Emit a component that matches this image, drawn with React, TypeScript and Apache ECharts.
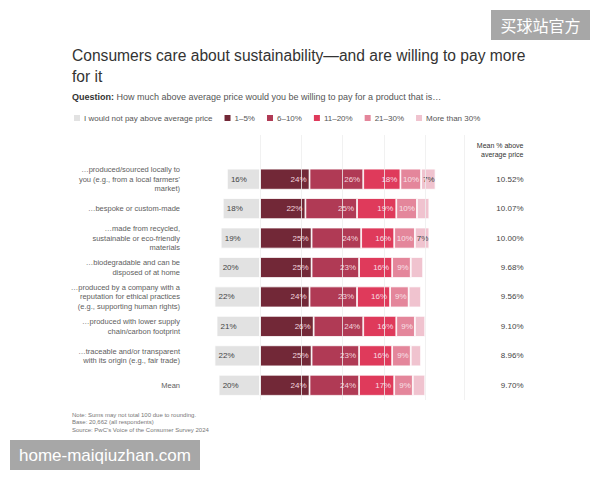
import React, { useEffect, useRef } from "react";
import * as echarts from "echarts";

// Row labels (statements completing "a product that is…")
const statements = [
  "…produced/sourced locally to\nyou (e.g., from a local farmers'\nmarket)",
  "…bespoke or custom-made",
  "…made from recycled,\nsustainable or eco-friendly\nmaterials",
  "…biodegradable and can be\ndisposed of at home",
  "…produced by a company with a\nreputation for ethical practices\n(e.g., supporting human rights)",
  "…produced with lower supply\nchain/carbon footprint",
  "…traceable and/or transparent\nwith its origin (e.g., fair trade)",
  "Mean",
];

// Share of respondents (%) by premium they would pay
const wouldNotPay = [16, 18, 19, 20, 22, 21, 22, 20];
const pct1to5 = [24, 22, 25, 25, 24, 26, 25, 24];
const pct6to10 = [26, 25, 24, 23, 23, 24, 23, 24];
const pct11to20 = [18, 19, 16, 16, 16, 16, 16, 17];
const pct21to30 = [10, 10, 10, 9, 9, 9, 9, 9];
const pctOver30 = [7, 6, 7, 6, 6, 5, 5, 6];

// Mean premium above average price
const meanPremium = ["10.52%", "10.07%", "10.00%", "9.68%", "9.56%", "9.10%", "8.96%", "9.70%"];

const seriesNames = [
  "I would not pay above average price",
  "1–5%",
  "6–10%",
  "11–20%",
  "21–30%",
  "More than 30%",
];
const seriesColors = ["#e2e2e2", "#722837", "#b03a55", "#df3a5b", "#e4869b", "#f0c3cf"];

const FONT = "'Liberation Sans', Arial, sans-serif";

export default function App() {
  const ref = useRef<HTMLDivElement>(null);

  useEffect(() => {
    if (!ref.current) return;
    const chart = echarts.init(ref.current, undefined, { renderer: "svg" });

    // first category is an empty header row above the bars
    const cats = ["", ...statements];
    const withHeader = (arr: number[]) => [null, ...arr];

    const mkSeries = (idx: number, values: (number | null)[], labelOpt: any) => ({
      name: seriesNames[idx],
      type: "bar",
      stack: "share",
      barWidth: 21,
      data: values,
      itemStyle: { color: seriesColors[idx], borderColor: "#ffffff", borderWidth: 0.8 },
      label: { show: true, fontSize: 8, fontFamily: FONT, ...labelOpt },
      emphasis: { disabled: true },
    });

    const option: any = {
      animation: false,
      backgroundColor: "#ffffff",
      textStyle: { fontFamily: FONT },
      title: {
        text: "Consumers care about sustainability—and are willing to pay more\nfor it",
        left: 72,
        top: 45,
        padding: 0,
        textStyle: {
          fontSize: 15.6,
          fontWeight: "normal",
          color: "#333333",
          lineHeight: 21,
          fontFamily: FONT,
        },
      },
      legend: {
        left: 72,
        top: 113,
        padding: 0,
        itemWidth: 8,
        itemHeight: 8,
        itemGap: 10,
        icon: "rect",
        data: seriesNames,
        textStyle: { fontSize: 8, color: "#555555", fontFamily: FONT, padding: [0, 0, 0, -2] },
        selectedMode: false,
      },
      grid: { left: 198, top: 135, width: 268.5, height: 265 },
      xAxis: {
        type: "value",
        min: -30,
        max: 100,
        show: false,
      },
      yAxis: [
        {
          type: "category",
          inverse: true,
          data: cats,
          axisLine: { show: false },
          axisTick: { show: false },
          axisLabel: {
            fontSize: 7.5,
            color: "#606060",
            lineHeight: 9.5,
            align: "right",
            margin: 18,
            fontFamily: FONT,
          },
        },
        {
          type: "category",
          inverse: true,
          position: "right",
          data: ["Mean % above\naverage price", ...meanPremium],
          axisLine: { show: false },
          axisTick: { show: false },
          axisLabel: {
            align: "right",
            margin: 57,
            fontFamily: FONT,
            formatter: (v: string, i: number) => (i === 0 ? `{h|${v}}` : `{v|${v}}`),
            rich: {
              h: { fontSize: 7, color: "#333333", lineHeight: 9, align: "right", fontFamily: FONT },
              v: { fontSize: 8, color: "#444444", align: "right", fontFamily: FONT },
            },
          },
        },
      ],
      series: [
        {
          ...mkSeries(0, withHeader(wouldNotPay.map((v) => -v)), {
            position: "insideLeft",
            distance: 4,
            color: "#444444",
            formatter: (p: any) => `${Math.abs(p.value)}%`,
          }),
          markLine: {
            silent: true,
            symbol: "none",
            label: { show: false },
            lineStyle: { color: "#ededed", width: 0.8, type: "solid" },
            data: [{ xAxis: 0 }, { xAxis: 20 }, { xAxis: 40 }, { xAxis: 60 }, { xAxis: 80 }, { xAxis: 99 }],
          },
        },
        mkSeries(1, withHeader(pct1to5), {
          position: "insideRight",
          distance: 3,
          color: "#f3d6de",
          formatter: "{c}%",
        }),
        mkSeries(2, withHeader(pct6to10), {
          position: "insideRight",
          distance: 3,
          color: "#f3d6de",
          formatter: "{c}%",
        }),
        mkSeries(3, withHeader(pct11to20), {
          position: "insideRight",
          distance: 3,
          color: "#f7dce3",
          formatter: "{c}%",
        }),
        mkSeries(4, withHeader(pct21to30), {
          position: "insideRight",
          distance: 2,
          color: "#f7e1e7",
          formatter: "{c}%",
        }),
        mkSeries(5, withHeader(pctOver30), {
          position: "insideRight",
          distance: 1,
          color: "#444444",
          formatter: (p: any) => (p.value >= 7 ? `${p.value}%` : ""),
        }),
      ],
      graphic: [
        {
          type: "text",
          left: 72,
          top: 92,
          style: {
            text: "{b|Question:} How much above average price would you be willing to pay for a product that is…",
            rich: {
              b: { fontSize: 9, fontWeight: "bold", fill: "#333333", fontFamily: FONT },
            },
            fontSize: 9,
            fill: "#555555",
            fontFamily: FONT,
          },
        },
        {
          type: "text",
          left: 72,
          top: 411,
          style: {
            text:
              "Note: Sums may not total 100 due to rounding.\nBase: 20,662 (all respondents)\nSource: PwC's Voice of the Consumer Survey 2024",
            fontSize: 6,
            lineHeight: 7.5,
            fill: "#777777",
            fontFamily: FONT,
          },
        },
        {
          type: "rect",
          shape: { x: 491, y: 10, width: 99, height: 30 },
          style: { fill: "#a7a7a7" },
        },
        {
          type: "text",
          x: 540.5,
          y: 25,
          style: {
            text: "买球站官方",
            fontSize: 16,
            fill: "#ffffff",
            align: "center",
            verticalAlign: "middle",
            fontFamily: "'Noto Sans CJK SC', sans-serif",
          },
        },
        {
          type: "rect",
          shape: { x: 10, y: 440, width: 190, height: 30 },
          style: { fill: "#a7a7a7" },
        },
        {
          type: "text",
          x: 105,
          y: 455,
          style: {
            text: "home-maiqiuzhan.com",
            fontSize: 17,
            fill: "#ffffff",
            align: "center",
            verticalAlign: "middle",
            fontFamily: FONT,
          },
        },
      ],
    };

    chart.setOption(option);
    return () => chart.dispose();
  }, []);

  return (
    <div
      ref={ref}
      style={{ position: "fixed", left: 0, top: 0, width: 600, height: 480 }}
    />
  );
}
